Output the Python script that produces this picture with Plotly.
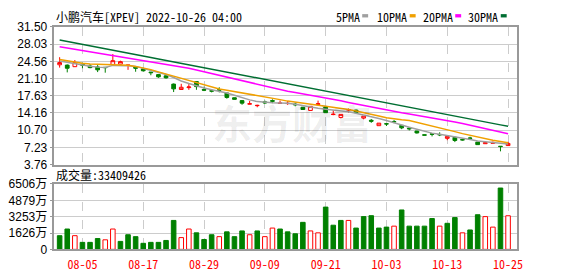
import plotly.graph_objects as go

# ---------------- data ----------------
dates = ["08-02", "08-03", "08-04", "08-05", "08-08", "08-09", "08-10", "08-11", "08-12", "08-15",
         "08-16", "08-17", "08-18", "08-19", "08-22", "08-23", "08-24", "08-25", "08-26", "08-29",
         "08-30", "08-31", "09-01", "09-02", "09-06", "09-07", "09-08", "09-09", "09-12", "09-13",
         "09-14", "09-15", "09-16", "09-19", "09-20", "09-21", "09-22", "09-23", "09-26", "09-27",
         "09-28", "09-29", "09-30", "10-03", "10-04", "10-05", "10-06", "10-07", "10-10", "10-11",
         "10-12", "10-13", "10-14", "10-17", "10-18", "10-19", "10-20", "10-21", "10-24", "10-25"]

opens = [23.87, 23.81, 23.49, 24.00, 23.62, 23.43, 23.36, 23.94, 24.00, 23.74,
         23.43, 23.04, 22.40, 21.89, 21.64, 19.98, 18.89, 19.27, 20.49, 18.89,
         18.63, 18.83, 18.19, 17.23, 16.65, 15.95, 15.63, 16.40, 16.65, 16.08,
         16.05, 15.95, 15.31, 14.67, 15.89, 15.37, 13.84, 13.26, 14.73, 14.73,
         13.13, 12.69, 11.60, 11.99, 12.44, 11.67, 11.10, 10.52, 9.76, 9.95,
         9.82, 9.05, 9.25, 8.80, 9.12, 8.29, 7.97, 8.03, 7.46, 7.59]
highs = [25.40, 23.94, 24.83, 24.32, 24.00, 23.81, 23.36, 26.04, 24.70, 23.84,
         23.43, 23.30, 22.40, 21.95, 21.82, 20.10, 20.04, 19.98, 20.55, 19.47,
         18.95, 19.34, 18.25, 17.25, 16.72, 16.59, 15.82, 16.65, 16.91, 16.65,
         16.60, 16.27, 15.37, 15.52, 16.65, 15.56, 14.73, 13.90, 15.05, 14.86,
         13.54, 12.94, 12.13, 12.01, 12.75, 11.69, 11.35, 10.54, 9.78, 9.97,
         10.26, 9.46, 9.44, 8.82, 9.37, 8.31, 8.18, 8.41, 7.48, 8.35]
lows = [23.30, 22.34, 23.43, 23.17, 23.17, 22.40, 22.28, 23.87, 23.94, 22.85,
        22.47, 22.53, 21.76, 21.25, 21.06, 18.38, 18.83, 18.83, 18.83, 18.57,
        18.31, 18.31, 17.04, 16.88, 15.82, 15.93, 15.31, 16.01, 16.14, 16.06,
        15.80, 15.50, 14.80, 14.65, 15.87, 14.20, 13.71, 13.07, 14.22, 14.03,
        12.88, 12.18, 11.58, 11.54, 12.11, 10.90, 10.65, 10.01, 9.67, 9.44,
        9.50, 8.67, 8.29, 8.61, 8.73, 7.76, 7.91, 8.01, 6.43, 7.57]
closes = [24.32, 23.17, 24.32, 23.81, 23.30, 22.85, 23.30, 24.70, 24.51, 23.81,
          23.17, 22.66, 22.28, 21.44, 21.25, 19.02, 19.34, 19.40, 19.47, 18.76,
          18.57, 18.76, 17.29, 16.91, 16.14, 16.01, 15.69, 16.21, 16.53, 16.15,
          16.10, 15.82, 14.86, 15.50, 16.01, 14.22, 13.90, 13.88, 14.86, 14.22,
          13.52, 12.50, 12.11, 11.95, 12.37, 11.16, 10.97, 10.14, 9.69, 9.88,
          9.76, 9.44, 8.61, 8.73, 9.05, 7.78, 8.16, 8.22, 7.39, 8.03]

ma5 = [24.64, 24.35, 24.05, 23.80, 23.60, 23.40, 23.35, 23.75, 23.80, 23.70,
       23.55, 23.17, 22.80, 22.40, 21.90, 21.30, 20.60, 20.10, 19.60, 19.20,
       18.85, 18.60, 18.20, 17.75, 17.25, 16.80, 16.45, 16.25, 16.20, 16.15,
       16.10, 15.90, 15.60, 15.25, 15.10, 14.90, 14.75, 14.60, 14.40, 14.10,
       13.80, 13.45, 13.05, 12.65, 12.15, 11.75, 11.30, 10.90, 10.45, 10.10,
       9.85, 9.62, 9.35, 9.05, 8.80, 8.50, 8.35, 8.20, 8.05, 7.90]
ma10 = [24.95, 24.65, 24.40, 24.18, 24.05, 23.98, 23.92, 23.88, 23.84, 23.78,
        23.55, 23.25, 22.90, 22.45, 22.00, 21.55, 21.15, 20.70, 20.25, 19.80,
        19.40, 19.00, 18.75, 18.50, 18.25, 18.00, 17.75, 17.45, 17.15, 16.85,
        16.55, 16.30, 16.10, 15.90, 15.70, 15.50, 15.30, 15.10, 14.85, 14.55,
        14.25, 13.90, 13.55, 13.20, 12.95, 12.80, 12.65, 12.25, 11.85, 11.45,
        11.10, 10.75, 10.40, 10.00, 9.65, 9.25, 8.95, 8.65, 8.40, 8.15]
ma20 = [27.52, 27.27, 27.02, 26.77, 26.52, 26.27, 26.02, 25.78, 25.53, 25.28,
        25.03, 24.78, 24.53, 24.28, 24.03, 23.78, 23.53, 23.17, 22.81, 22.45,
        22.09, 21.73, 21.37, 21.01, 20.65, 20.29, 19.93, 19.57, 19.21, 18.85,
        18.55, 18.29, 18.03, 17.77, 17.51, 17.25, 16.93, 16.61, 16.29, 15.97,
        15.65, 15.34, 15.03, 14.72, 14.45, 14.20, 13.95, 13.70, 13.45, 13.20,
        12.90, 12.61, 12.32, 12.03, 11.68, 11.34, 11.00, 10.66, 10.32, 9.98]
ma30 = [28.86, 28.58, 28.30, 28.02, 27.71, 27.42, 27.12, 26.84, 26.55, 26.27,
        25.98, 25.67, 25.36, 25.06, 24.76, 24.45, 24.16, 23.86, 23.56, 23.25,
        22.95, 22.66, 22.36, 22.05, 21.75, 21.46, 21.17, 20.88, 20.60, 20.31,
        20.02, 19.73, 19.44, 19.15, 18.86, 18.55, 18.25, 17.95, 17.66, 17.37,
        17.07, 16.77, 16.47, 16.17, 15.88, 15.58, 15.28, 14.98, 14.68, 14.38,
        14.09, 13.80, 13.50, 13.21, 12.92, 12.63, 12.34, 12.05, 11.76, 11.48]

# volume in 万股
volumes = [1359, 2022, 1359, 695, 695, 1074, 948, 2022, 790, 1454,
           1264, 600, 695, 695, 885, 2876, 1169, 2022, 1643, 980,
           1454, 1264, 1738, 1264, 1833, 1454, 1833, 1264, 2117, 2022,
           1738, 1548, 2686, 1833, 1643, 4203, 2402, 2876, 2876, 2117,
           3255, 3350, 2117, 2212, 2307, 3918, 2307, 2307, 2307, 3065,
           2307, 2591, 3160, 1643, 1928, 3444, 3255, 2212, 6099, 3340.9426]
# 1 = closed higher than previous close (hollow red), 0 = lower (green)
volume_up = [0, 0, 1, 0, 0, 0, 1, 1, 0, 0,
             0, 0, 0, 0, 0, 0, 1, 1, 0, 0,
             0, 1, 0, 0, 0, 1, 0, 1, 1, 0,
             0, 0, 0, 1, 1, 0, 0, 0, 1, 0,
             0, 0, 0, 0, 1, 0, 0, 0, 0, 0,
             1, 0, 0, 1, 0, 0, 1, 1, 0, 1]

price_ticks = [3.76, 7.23, 10.70, 14.16, 17.63, 21.10, 24.56, 28.03, 31.50]
volume_ticks = [0, 1626, 3253, 4879, 6506]
volume_ticktext = ["0", "1626万", "3253万", "4879万", "6506万"]
date_tick_idx = [3, 11, 19, 27, 35, 43, 51, 59]
title_text = "小鹏汽车[XPEV] 2022-10-26 04:00"
latest_volume = 33409426
ma_names = ["5PMA", "10PMA", "20PMA", "30PMA"]

# ---------------- layout helpers ----------------
W, H = 578, 276
def px(x):
    return x / W
def py(y):
    return 1 - y / H

idx = list(range(len(dates)))
xr = [-0.685, 60.12]
mono = "Noto Sans Mono CJK SC, Liberation Mono, Noto Sans CJK SC, monospace"
sans = "Liberation Sans, Arial, Noto Sans CJK SC, sans-serif"

RED = "#ff0000"
GREEN = "#008000"
ma_colors = ["#a0a0a0", "#f0a000", "#ff00ff", "#006e32"]

fig = go.Figure()

fig.add_trace(go.Candlestick(
    x=idx, open=opens, high=highs, low=lows, close=closes,
    xaxis="x", yaxis="y",
    increasing=dict(line=dict(color=RED, width=1), fillcolor="#ffffff"),
    decreasing=dict(line=dict(color=GREEN, width=1), fillcolor=GREEN),
    whiskerwidth=0, showlegend=False, hoverinfo="skip"))

for name, vals, col in zip(ma_names, [ma5, ma10, ma20, ma30], ma_colors):
    fig.add_trace(go.Scatter(x=idx, y=vals, mode="lines", name=name,
                             line=dict(color=col, width=1.5),
                             xaxis="x", yaxis="y", showlegend=False, hoverinfo="skip"))

fig.add_trace(go.Bar(
    x=idx, y=volumes, xaxis="x2", yaxis="y2", width=0.6,
    marker=dict(color=["#ffffff" if u else GREEN for u in volume_up],
                line=dict(color=[RED if u else GREEN for u in volume_up], width=1)),
    showlegend=False, hoverinfo="skip"))

grid = "#cccccc"
frame = "#999999"
common_x = dict(range=xr, tickvals=date_tick_idx, showgrid=True, gridcolor=grid,
                griddash="dash", gridwidth=1, zeroline=False, showline=True, mirror=True,
                linecolor=frame, linewidth=1.5, fixedrange=True,
                domain=[px(55), px(522)])

fig.update_layout(
    width=W, height=H, margin=dict(l=0, r=0, t=0, b=0),
    paper_bgcolor="#ffffff", plot_bgcolor="#ffffff",
    xaxis=dict(common_x, anchor="y", showticklabels=False, ticks="",
               rangeslider=dict(visible=False)),
    xaxis2=dict(common_x, anchor="y2", ticks="", ticklabelstandoff=3,
                ticktext=[dates[i] for i in date_tick_idx],
                tickfont=dict(family=mono, size=12, color=RED)),
    yaxis=dict(domain=[py(166), py(21)], range=[price_ticks[0], price_ticks[-1]],
               tickvals=price_ticks, ticktext=[f"{v:.2f}" for v in price_ticks],
               tickfont=dict(family=sans, size=12, color="#000000"),
               showgrid=True, gridcolor=grid, gridwidth=1, zeroline=False,
               showline=True, mirror=True, linecolor=frame, linewidth=1.5,
               ticks="outside", ticklen=3, tickcolor=frame, fixedrange=True),
    yaxis2=dict(domain=[py(255.3), py(186.4)], range=[0, volume_ticks[-1]],
                tickvals=volume_ticks, ticktext=volume_ticktext,
                tickfont=dict(family=sans, size=12, color="#000000"),
                showgrid=True, gridcolor=grid, gridwidth=1, zeroline=False,
                showline=True, mirror=True, linecolor=frame, linewidth=1.5,
                ticks="outside", ticklen=3, tickcolor=frame, fixedrange=True),
    showlegend=False,
)

annotations = [
    dict(text="<b>东方财富</b>", x=px(295), y=py(88), xref="paper", yref="paper",
         showarrow=False, font=dict(family="Noto Sans CJK SC", size=40, color="rgba(0,0,0,0.07)")),
    dict(text=title_text, x=px(55), y=py(10), xref="paper", yref="paper",
         xanchor="left", yanchor="middle", showarrow=False,
         font=dict(family=mono, size=12, color="#000000")),
    dict(text=f"成交量:{latest_volume}", x=px(55), y=py(176), xref="paper", yref="paper",
         xanchor="left", yanchor="middle", showarrow=False,
         font=dict(family=mono, size=12, color="#000000")),
]
legend_x = [337, 379, 425, 471]
marker_x = [366, 414, 460, 506]
shapes = []
for name, col, lx, mx in zip(ma_names, ma_colors, legend_x, marker_x):
    annotations.append(dict(text=name, x=px(lx), y=py(10), xref="paper", yref="paper",
                            xanchor="left", yanchor="middle", showarrow=False,
                            font=dict(family=mono, size=12, color="#000000")))
    shapes.append(dict(type="rect", xref="paper", yref="paper",
                       x0=px(mx), x1=px(mx + 6), y0=py(11), y1=py(7.5),
                       fillcolor=col, line=dict(width=0)))
fig.update_layout(annotations=annotations, shapes=shapes)

fig.write_html("out.html")
